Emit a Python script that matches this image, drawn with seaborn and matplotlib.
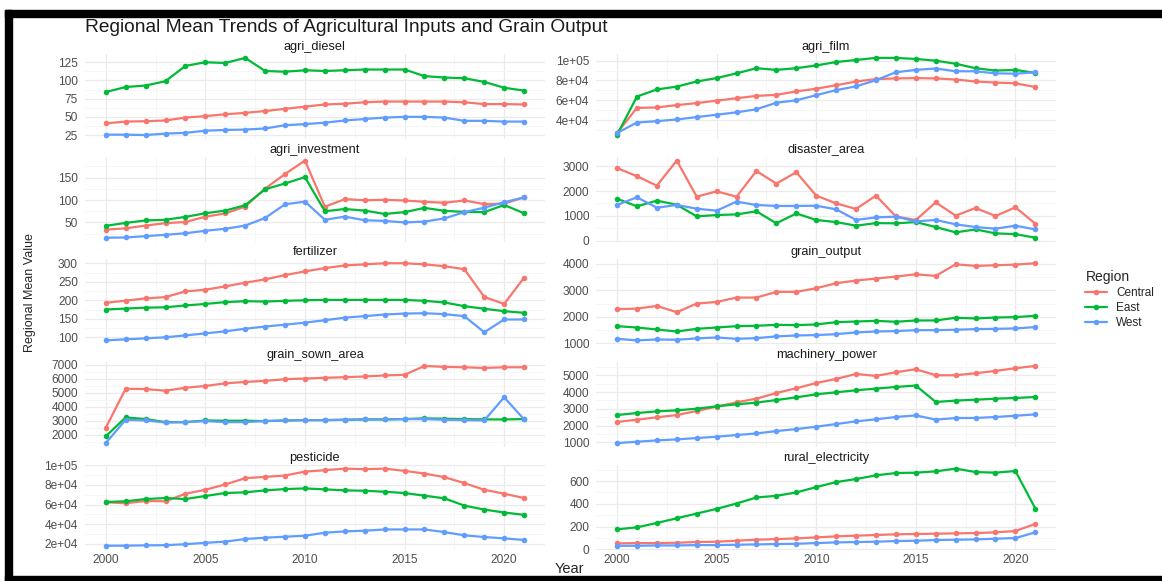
import numpy as np
import pandas as pd
import matplotlib
matplotlib.use("Agg")
import matplotlib.pyplot as plt
import seaborn as sns
from matplotlib.ticker import MultipleLocator, FuncFormatter
from matplotlib.lines import Line2D
from matplotlib.patches import Rectangle

years = list(range(2000, 2022))
regions = ["Central", "East", "West"]
palette = {"Central": "#F8766D", "East": "#00BA38", "West": "#619CFF"}

# values (one list per region, 2000..2021)
agri_diesel = {
    "Central": [41, 43.5, 44, 45, 49, 51, 53.5, 55.5, 58, 61, 64, 67, 68, 70, 71, 71, 71, 71, 70, 67.5, 67.5, 67],
    "East": [84, 91, 93, 99, 120, 125, 124, 131, 113, 112, 114, 113, 114, 115, 115, 115, 106, 104, 103, 98, 90, 86],
    "West": [25.5, 25.5, 25, 27, 28, 31, 32, 32.5, 34, 38.5, 40, 42, 45, 47, 49, 50, 50, 49, 44.5, 44.5, 43.5, 43.5],
}
agri_film = {
    "Central": [27000, 52400, 52800, 55200, 57200, 59700, 62100, 64500, 65500, 69000, 71700, 75200,
                79000, 81400, 82100, 82400, 82100, 81000, 79000, 77900, 77200, 73400],
    "East": [25000, 63800, 71000, 73800, 79000, 82400, 87200, 92400, 90700, 92400, 95200, 98600,
             100700, 102800, 102800, 101700, 100000, 96900, 92400, 90000, 90700, 87600],
    "West": [27000, 37600, 39000, 40700, 43100, 45500, 47900, 51000, 57600, 60000, 65200, 70300,
             74100, 80300, 88300, 90700, 92100, 89300, 89300, 87200, 86900, 88300],
}
agri_investment = {
    "Central": [34, 37, 43, 48.5, 51, 63, 70, 85.5, 125.5, 158, 188, 85, 102, 99.5, 100.5, 99, 96, 94, 99, 91, 92, 106],
    "East": [42.5, 49, 54.5, 56, 62.5, 70.5, 76.5, 88.5, 124, 137, 151, 75, 80, 76.5, 69, 73, 82.5, 76, 73.5, 73, 89, 70.5],
    "West": [16, 16.5, 19.5, 22.5, 26, 31.5, 36, 43, 60, 90.5, 96.5, 56, 63, 55, 53.5, 50, 52, 59, 73, 83, 95, 106],
}
disaster_area = {
    "Central": [2930, 2600, 2220, 3230, 1775, 1990, 1775, 2810, 2300, 2760, 1815, 1505, 1280, 1815,
                980, 830, 1545, 1010, 1320, 995, 1345, 685],
    "East": [1695, 1385, 1615, 1450, 980, 1035, 1060, 1185, 700, 1100, 835, 750, 605, 710,
             700, 750, 550, 335, 455, 295, 265, 120],
    "West": [1440, 1750, 1330, 1440, 1290, 1210, 1575, 1440, 1400, 1400, 1410, 1265, 835, 940,
             970, 780, 835, 660, 550, 485, 605, 455],
}
fertilizer = {
    "Central": [193, 199, 205, 208.5, 224, 228.5, 237.5, 247.5, 256.5, 268, 278, 287, 294, 297, 300, 300,
                297, 292, 284, 209, 190, 261],
    "East": [175, 177.5, 180, 181, 186, 190, 195, 197.5, 196.5, 198.5, 200, 201, 201, 201, 201, 201,
             198.5, 194, 184, 177, 170.5, 166],
    "West": [91.5, 94.5, 97, 100, 105, 110.5, 116, 123, 129, 134, 139.5, 146, 153, 157, 161.5, 164,
             165, 162.5, 157, 113.5, 148, 148],
}
grain_output = {
    "Central": [2290, 2310, 2410, 2175, 2500, 2560, 2725, 2725, 2940, 2940, 3075, 3265, 3365, 3440,
                3515, 3600, 3540, 3975, 3915, 3940, 3965, 4015],
    "East": [1650, 1600, 1525, 1450, 1550, 1600, 1650, 1665, 1700, 1690, 1715, 1800, 1825, 1850,
             1815, 1865, 1865, 1965, 1940, 1975, 1990, 2040],
    "West": [1175, 1115, 1150, 1140, 1190, 1225, 1175, 1200, 1265, 1300, 1315, 1350, 1415, 1450,
             1465, 1500, 1500, 1515, 1540, 1550, 1565, 1615],
}
grain_sown_area = {
    "Central": [2490, 5290, 5270, 5150, 5365, 5490, 5680, 5780, 5855, 5975, 6025, 6075, 6120, 6170,
                6245, 6290, 6925, 6855, 6830, 6780, 6830, 6830],
    "East": [1880, 3240, 3120, 2900, 2900, 3020, 3000, 3000, 2975, 3020, 3045, 3045, 3070, 3095,
             3095, 3120, 3170, 3145, 3120, 3095, 3095, 3120],
    "West": [1400, 3070, 3020, 2875, 2900, 2975, 2900, 2900, 2975, 3020, 3045, 3045, 3070, 3095,
             3095, 3120, 3120, 3070, 3045, 3020, 4680, 3095],
}
machinery_power = {
    "Central": [2215, 2355, 2495, 2630, 2870, 3130, 3390, 3605, 3945, 4225, 4540, 4780, 5080, 4960,
                5180, 5360, 5000, 5000, 5120, 5260, 5420, 5555],
    "East": [2630, 2750, 2850, 2910, 3010, 3150, 3270, 3370, 3525, 3685, 3865, 3985, 4105, 4205,
             4305, 4385, 3410, 3490, 3545, 3605, 3645, 3705],
    "West": [960, 1040, 1120, 1180, 1260, 1340, 1440, 1535, 1675, 1795, 1935, 2095, 2255, 2375,
             2515, 2610, 2355, 2455, 2455, 2515, 2590, 2670],
}
pesticide = {
    "Central": [62400, 61400, 63700, 63400, 71100, 75100, 80500, 86900, 88200, 89600, 93600, 95000,
                96600, 96000, 96600, 94300, 91600, 87900, 81900, 75100, 71100, 66700],
    "East": [62700, 63400, 65700, 66700, 65700, 68800, 71800, 72500, 74500, 75800, 76500, 75500,
             74500, 74100, 73100, 71800, 69100, 66400, 59000, 55000, 52000, 49600],
    "West": [18200, 18300, 18600, 18800, 19800, 21200, 22400, 25100, 26400, 27400, 28400, 31500,
             32800, 33500, 34800, 34800, 34800, 32100, 28800, 27100, 25700, 24100],
}
rural_electricity = {
    "Central": [53, 56, 56, 59, 65, 68, 77, 85.5, 91, 97, 106, 115, 121, 127, 133, 135.5, 138.5,
                141, 144, 150, 162, 224],
    "East": [176.5, 194, 232.5, 273.5, 315, 356, 403, 456, 470.5, 500, 547, 591, 617.5, 650, 670.5,
             673.5, 685, 709, 679, 673.5, 688, 359],
    "West": [32.5, 32.5, 35.5, 35.5, 38.5, 38.5, 41.5, 44.5, 47.5, 50, 56, 62, 65, 68, 74, 76.5,
             82.5, 85.5, 88.5, 94.5, 100, 150],
}

variables = ["agri_diesel", "agri_film", "agri_investment", "disaster_area", "fertilizer",
             "grain_output", "grain_sown_area", "machinery_power", "pesticide", "rural_electricity"]
series = [agri_diesel, agri_film, agri_investment, disaster_area, fertilizer,
          grain_output, grain_sown_area, machinery_power, pesticide, rural_electricity]
y_steps = [25, 20000, 50, 1000, 50, 1000, 1000, 1000, 20000, 200]

rows = []
for var, data in zip(variables, series):
    for reg in regions:
        for yr, v in zip(years, data[reg]):
            rows.append({"variable": var, "Region": reg, "Year": yr, "value": v})
df = pd.DataFrame(rows)

sns.set_style("whitegrid")
plt.rcParams["font.family"] = ["Liberation Sans", "DejaVu Sans"]

fig, axes = plt.subplots(5, 2, figsize=(11.62, 5.81), dpi=100, sharex=True)
fig.subplots_adjust(left=0.073, right=0.909, top=0.907, bottom=0.054, hspace=0.21, wspace=0.111)

sci = FuncFormatter(lambda v, p: "{:.0e}".format(v) if v != 0 else "0e+00")

for ax, var, step in zip(axes.flat, variables, y_steps):
    sub = df[df["variable"] == var]
    sns.lineplot(data=sub, x="Year", y="value", hue="Region", palette=palette,
                 hue_order=regions, marker="o", markersize=4, markeredgewidth=0,
                 linewidth=1.6, legend=False, ax=ax)
    ax.set_title(var, fontsize=9.2, color="#1A1A1A", pad=3)
    ax.set_xlabel("")
    ax.set_ylabel("")
    ax.yaxis.set_major_locator(MultipleLocator(step))
    ax.yaxis.set_minor_locator(MultipleLocator(step / 2))
    if var in ("agri_film", "pesticide"):
        ax.yaxis.set_major_formatter(sci)
    ax.xaxis.set_major_locator(MultipleLocator(5))
    ax.xaxis.set_minor_locator(MultipleLocator(2.5))
    ax.set_xlim(2000 - 1.05, 2021 + 1.05)
    ax.grid(which="major", color="#EBEBEB", linewidth=0.9)
    ax.grid(which="minor", color="#F5F5F5", linewidth=0.6)
    ax.set_axisbelow(True)
    for s in ax.spines.values():
        s.set_visible(False)
    ax.tick_params(axis="both", which="both", length=0, labelsize=8.6, labelcolor="#4D4D4D", pad=5)
    ax.tick_params(axis="x", pad=3)

for ax in axes[-1]:
    ax.set_xticks([2000, 2005, 2010, 2015, 2020])
    ax.tick_params(axis="x", labelbottom=True)

fig.text(0.073, 0.952, "Regional Mean Trends of Agricultural Inputs and Grain Output",
         fontsize=13.8, color="#1A1A1A", ha="left", va="center")
fig.text(0.026, 0.497, "Regional Mean Value", rotation=90, fontsize=9, ha="center", va="center")
fig.text(0.49, 0.02, "Year", fontsize=10.5, ha="center", va="center")

handles = [Line2D([0], [0], color=palette[r], marker="o", markersize=4, linewidth=1.6,
                  markeredgewidth=0) for r in regions]
leg = fig.legend(handles, regions, title="Region", loc="center left",
                 bbox_to_anchor=(0.925, 0.484), frameon=False, fontsize=8.5,
                 title_fontsize=10, handlelength=1.8, labelspacing=0.25)
leg._legend_box.align = "left"

# black screenshot frame
W, H = 1162, 581
for x0, y0, w, h in [(5, 10, 7, 571), (5, 10, 1157, 7), (5, 576, 1157, 5)]:
    fig.add_artist(Rectangle((x0 / W, 1 - (y0 + h) / H), w / W, h / H,
                             transform=fig.transFigure, color="black", zorder=10))

fig.savefig("out.png", dpi=100)
